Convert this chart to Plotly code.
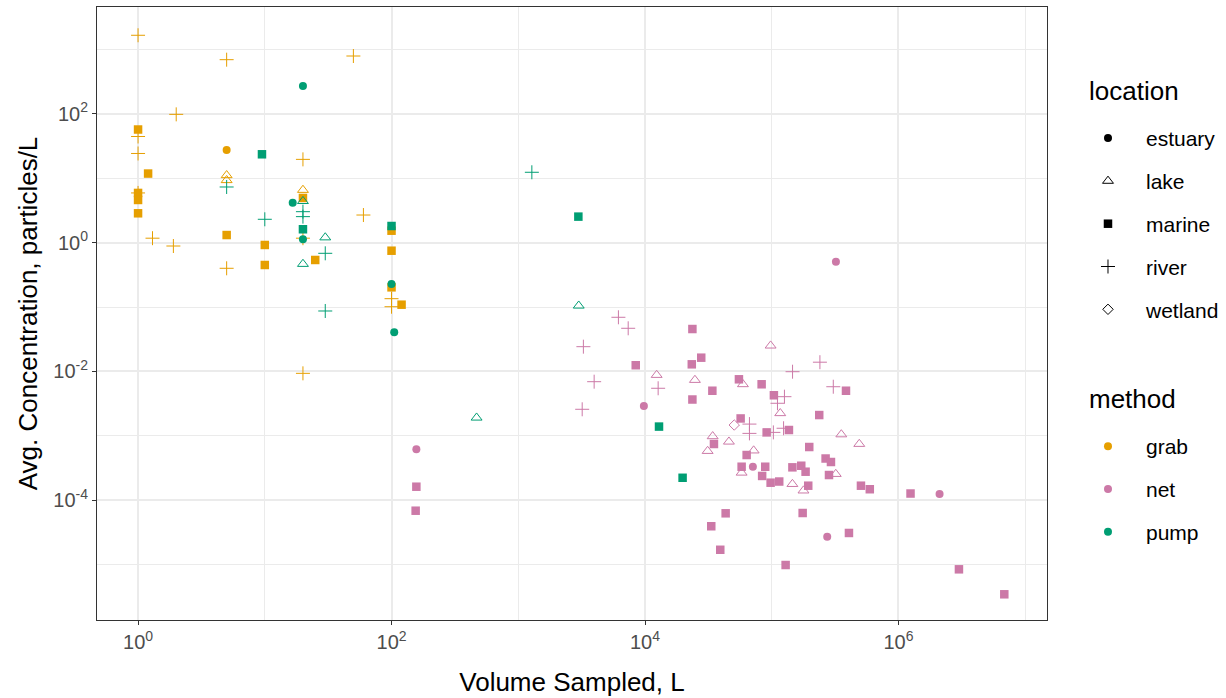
import plotly.graph_objects as go

# ---------------- data ----------------
grab_vol = [5, 5, 5, 20,
            1, 1, 1, 1, 1.2, 5, 10, 10, 20, 25, 100, 100, 100, 120,
            1, 5, 50, 2, 1, 1, 1, 20, 1.3, 1.9, 5, 60, 20, 100, 100, 20]
grab_conc = [27.4, 11.1, 9.3, 6.56,
             57, 5.9, 4.59, 2.85, 11.8, 1.31, 0.918, 0.449, 4.93, 0.537, 1.53, 0.748, 0.202, 0.1086,
             1656, 692, 789, 98, 44.4, 24.2, 5.9, 19.6, 1.17, 0.885, 0.399, 2.68, 1.17, 0.1346, 0.101, 0.00933]
grab_loc = ["estuary", "lake", "lake", "lake"] + ["marine"] * 14 + ["river"] * 16

pump_vol = [20, 16.6, 20, 100, 105,
            20, 20, 30, 469, 3000,
            9.5, 20, 100, 2980, 12900, 19800,
            5, 20, 20, 10, 30, 30, 1280]
pump_conc = [270, 4.17, 1.125, 0.228, 0.0404,
             4.4, 0.465, 1.2, 0.00191, 0.1047,
             23.5, 1.61, 1.81, 2.53, 0.00139, 0.000223,
             7.3, 3.02, 2.53, 2.30, 0.682, 0.0867, 12.35]
pump_loc = ["estuary"] * 5 + ["lake"] * 5 + ["marine"] * 6 + ["river"] * 7

net_vol = [157, 9800, 71000, 321000, 274000, 2.11e6,
           12360, 24770, 98000, 116700, 34200, 31200, 45950, 59250, 72000, 57860,
           145600, 178000, 320000, 354000, 490600,
           157, 155, 8450, 23660, 27780, 23400, 34000, 23660, 55100, 83230, 104000,
           136700, 237000, 385400, 56840, 91200, 35000, 197700, 63400, 57860, 88840,
           84000, 98000, 114600, 145600, 171000, 185000, 194100, 266100, 293300, 283000,
           505800, 594000, 1.245e6, 43290, 33330, 39260, 175400, 406700, 128700, 3.0e6, 6.84e6,
           6170, 7370, 3265, 3970, 3195, 12700, 146000, 240000, 306000, 126000, 111000,
           124000, 66700, 66700, 103000,
           50600]
net_conc = [0.000617, 0.0029, 0.000331, 0.505, 0.0000271, 0.000125,
            0.00879, 0.00735, 0.0251, 0.00224, 0.000982, 0.00058, 0.00081, 0.00631, 0.00059, 0.000267,
            0.000178, 0.000141, 0.000255, 0.00105, 0.000746,
            0.000162, 0.0000687, 0.01247, 0.0455, 0.01633, 0.01288, 0.00501, 0.00366, 0.00754, 0.00631, 0.00426,
            0.00123, 0.0021, 0.00501, 0.00186, 0.00113, 0.000746, 0.00067, 0.000503, 0.000331, 0.000331,
            0.000238, 0.000187, 0.000195, 0.000324, 0.000343, 0.000277, 0.000168, 0.000444, 0.000392, 0.000246,
            0.000168, 0.000148, 0.000127, 0.0000626, 0.0000394, 0.000017, 0.0000633, 0.000031, 0.00000986,
            0.00000845, 0.00000346,
            0.0692, 0.0467, 0.0242, 0.00692, 0.00258, 0.00547, 0.00989, 0.0139, 0.00578, 0.00405, 0.0032,
            0.00131, 0.00152, 0.00109, 0.00113,
            0.00147]
net_loc = ["estuary"] * 6 + ["lake"] * 15 + ["marine"] * 42 + ["river"] * 15 + ["wetland"]

methods = ["grab", "net", "pump"]
locations = ["estuary", "lake", "marine", "river", "wetland"]
method_colors = {"grab": "#E69F00", "net": "#CC79A7", "pump": "#009E73"}

x_ticks = [1, 100, 1e4, 1e6]
x_ticktext = ["10<sup>0</sup>", "10<sup>2</sup>", "10<sup>4</sup>", "10<sup>6</sup>"]
x_minor = [10, 1e3, 1e5, 1e7]
y_ticks = [1e-4, 1e-2, 1, 100]
y_ticktext = ["10<sup>-4</sup>", "10<sup>-2</sup>", "10<sup>0</sup>", "10<sup>2</sup>"]
y_minor = [1e-5, 1e-3, 1e-1, 10, 1000]

# ---------------- styles ----------------
FONT = "Liberation Sans, Arial, sans-serif"
sym = {
    "estuary": dict(symbol="circle", size=8, line=dict(width=0)),
    "lake": dict(symbol="triangle-up-open", size=9.5, line=dict(width=1)),
    "marine": dict(symbol="square", size=8.5, line=dict(width=0)),
    "river": dict(symbol="cross-thin-open", size=10, line=dict(width=1)),
    "wetland": dict(symbol="diamond-open", size=8, line=dict(width=1)),
}

data = {
    "grab": (grab_vol, grab_conc, grab_loc),
    "net": (net_vol, net_conc, net_loc),
    "pump": (pump_vol, pump_conc, pump_loc),
}

fig = go.Figure()
for m in methods:
    vols, concs, locs = data[m]
    for loc in locations:
        xs = [v for v, l in zip(vols, locs) if l == loc]
        ys = [c for c, l in zip(concs, locs) if l == loc]
        if not xs:
            continue
        mk = dict(sym[loc])
        mk["color"] = method_colors[m]
        fig.add_trace(go.Scatter(x=xs, y=ys, mode="markers", marker=mk,
                                 showlegend=False, hoverinfo="x+y"))

# legend-only traces
for loc in locations:
    mk = dict(sym[loc])
    mk["color"] = "black"
    fig.add_trace(go.Scatter(x=[None], y=[None], mode="markers", marker=mk,
                             name=loc, legend="legend", legendgroup="loc_" + loc,
                             showlegend=True))
for m in methods:
    fig.add_trace(go.Scatter(x=[None], y=[None], mode="markers",
                             marker=dict(symbol="circle", size=8, color=method_colors[m]),
                             name=m, legend="legend2", legendgroup="m_" + m,
                             showlegend=True))

axis_common = dict(
    type="log",
    showline=True, linecolor="#333333", linewidth=1, mirror=True,
    showgrid=True, gridcolor="#EBEBEB", gridwidth=2,
    ticks="outside", ticklen=4, tickcolor="#333333", tickwidth=1,
    tickfont=dict(family=FONT, size=20, color="#4D4D4D"),
    zeroline=False,
    tickmode="array",
)

legend_common = dict(
    font=dict(family=FONT, size=21, color="black"),
    xanchor="left", yanchor="top",
    tracegroupgap=12.5, itemwidth=66, bgcolor="rgba(0,0,0,0)",
)

fig.update_layout(
    width=1226, height=698,
    margin=dict(l=97, r=179, t=7, b=78, autoexpand=False),
    paper_bgcolor="white", plot_bgcolor="white",
    font=dict(family=FONT, color="black"),
    xaxis=dict(axis_common, range=[-0.324, 7.172], tickvals=x_ticks, ticktext=x_ticktext,
               minor=dict(tickmode="array", tickvals=x_minor, showgrid=True,
                          gridcolor="#EBEBEB", gridwidth=1, ticks=""),
               title=dict(text="Volume Sampled, L", font=dict(family=FONT, size=26), standoff=20)),
    yaxis=dict(axis_common, range=[-5.86, 3.658], tickvals=y_ticks, ticktext=y_ticktext,
               minor=dict(tickmode="array", tickvals=y_minor, showgrid=True,
                          gridcolor="#EBEBEB", gridwidth=1, ticks=""),
               title=dict(text="Avg. Concentration, particles/L", font=dict(family=FONT, size=26), standoff=8)),
    legend=dict(legend_common, x=1.0242, y=0.819),
    legend2=dict(legend_common, x=1.0242, y=0.3165),
    annotations=[
        dict(text="location", x=1.0421, y=0.863, xref="paper", yref="paper",
             xanchor="left", yanchor="middle", showarrow=False,
             font=dict(family=FONT, size=26, color="black")),
        dict(text="method", x=1.0421, y=0.3605, xref="paper", yref="paper",
             xanchor="left", yanchor="middle", showarrow=False,
             font=dict(family=FONT, size=26, color="black")),
    ],
)

fig.write_html("out.html", config={"displayModeBar": False},
               post_script="document.body.style.margin='0px';")
